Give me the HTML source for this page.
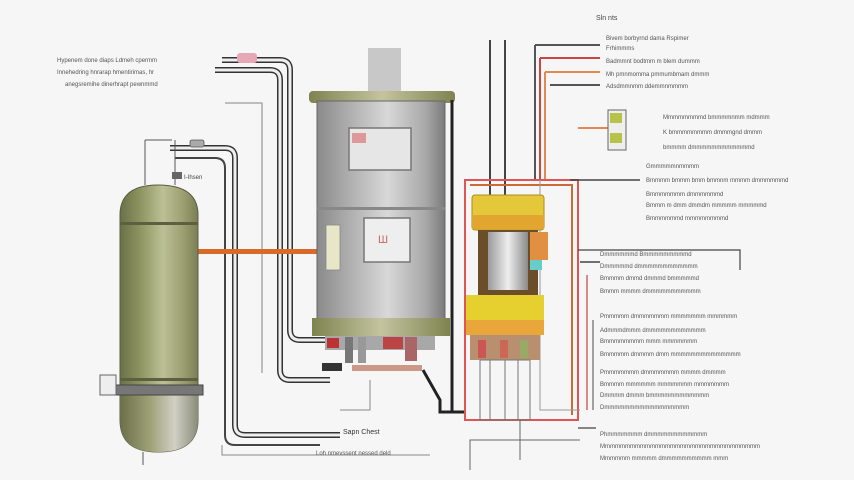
<!DOCTYPE html>
<html><head><style>
html,body{margin:0;padding:0;background:#f6f6f6;}
svg{display:block}
text{font-family:"Liberation Sans",sans-serif;fill:#555;font-size:6px}
</style></head><body>
<svg width="854" height="480" viewBox="0 0 854 480" xmlns="http://www.w3.org/2000/svg">
<defs>
<linearGradient id="tank" x1="0" x2="1"><stop offset="0" stop-color="#6b7048"/><stop offset="0.25" stop-color="#8c9360"/><stop offset="0.55" stop-color="#bcc095"/><stop offset="0.8" stop-color="#9da073"/><stop offset="1" stop-color="#7a7f55"/></linearGradient>
<linearGradient id="tankb" x1="0" x2="1"><stop offset="0" stop-color="#6b7048"/><stop offset="0.4" stop-color="#a0a37a"/><stop offset="0.7" stop-color="#d0d0c4"/><stop offset="1" stop-color="#8a8c7a"/></linearGradient>
<linearGradient id="heat" x1="0" x2="1"><stop offset="0" stop-color="#8a8a8a"/><stop offset="0.3" stop-color="#b5b5b5"/><stop offset="0.55" stop-color="#d8d8d8"/><stop offset="0.85" stop-color="#a8a8a8"/><stop offset="1" stop-color="#7a7a7a"/></linearGradient>
<linearGradient id="band" x1="0" x2="1"><stop offset="0" stop-color="#7e8350"/><stop offset="0.5" stop-color="#c4c4a0"/><stop offset="1" stop-color="#7e8350"/></linearGradient>
<linearGradient id="cyl" x1="0" x2="1"><stop offset="0" stop-color="#9a9a9a"/><stop offset="0.5" stop-color="#eeeeee"/><stop offset="1" stop-color="#8a8a8a"/></linearGradient>
</defs>

<g fill="none" stroke-linejoin="round">
<path d="M222 60 H280 Q290 60 290 70 V330 Q290 340 300 340 H330" stroke="#333" stroke-width="6"/>
<path d="M222 60 H280 Q290 60 290 70 V330 Q290 340 300 340 H330" stroke="#eee" stroke-width="3"/>
<path d="M215 70 H270 Q280 70 280 80 V370 Q280 380 290 380 H330" stroke="#333" stroke-width="6"/>
<path d="M215 70 H270 Q280 70 280 80 V370 Q280 380 290 380 H330" stroke="#eee" stroke-width="3"/>
<path d="M170 148 H225 Q235 148 235 158 V425 Q235 435 245 435 H340" stroke="#333" stroke-width="6"/>
<path d="M170 148 H225 Q235 148 235 158 V425 Q235 435 245 435 H340" stroke="#eee" stroke-width="3"/>
<path d="M175 158 H215 Q225 158 225 168 V435 Q225 445 235 445 H320" stroke="#444" stroke-width="2"/>
<path d="M225 103 H262 V373" stroke="#aaa" stroke-width="1.5"/>
<path d="M222 445 V455 H430" stroke="#888" stroke-width="1"/>
<path d="M145 140 H172 M145 140 V185 M175 140 V185" stroke="#555" stroke-width="1"/>
<path d="M370 380 V410 H340" stroke="#888" stroke-width="1"/>
</g>
<rect x="237" y="53" width="20" height="10" rx="3" fill="#e8a7b5"/>
<rect x="190" y="140" width="14" height="7" rx="2" fill="#aaa" stroke="#555" stroke-width=".8"/>
<rect x="172" y="172" width="10" height="7" fill="#666"/>
<text x="184" y="179" style="fill:#444">I-Ihsen</text>
<text x="57" y="62">Hypenem done diaps Ldmeh cpermm</text>
<text x="57" y="74">Innehedring hnrarap hmentirimas, hr</text>
<text x="65" y="86">anegsremihe dinerhrapt pewnmmd</text>

<rect x="196" y="249" width="125" height="5" fill="#d86a2a"/>

<path d="M120 215 Q120 185 158 185 Q198 185 198 215 V420 Q198 452 158 452 Q120 452 120 420 Z" fill="url(#tank)" stroke="#5a5e40" stroke-width="1"/>
<path d="M120 395 H198 V420 Q198 452 158 452 Q120 452 120 420Z" fill="url(#tankb)"/>
<rect x="120" y="222" width="78" height="3" fill="#5d6040"/>
<rect x="120" y="378" width="78" height="3" fill="#5d6040"/>
<rect x="115" y="385" width="88" height="10" fill="#777" stroke="#444" stroke-width="1"/>
<rect x="100" y="375" width="16" height="20" fill="#eee" stroke="#666" stroke-width="1"/>
<line x1="143" y1="452" x2="143" y2="465" stroke="#555"/>

<rect x="368" y="48" width="33" height="45" fill="#c8c8c8"/>
<rect x="309" y="91" width="146" height="12" rx="4" fill="url(#band)"/>
<rect x="317" y="101" width="128" height="218" fill="url(#heat)" stroke="#666" stroke-width="1"/>
<rect x="317" y="207" width="128" height="3" fill="#888"/>
<rect x="349" y="128" width="62" height="42" fill="#e6e6e6" stroke="#777" stroke-width="1.5"/>
<rect x="352" y="133" width="14" height="10" fill="#d99"/>
<rect x="364" y="218" width="46" height="44" fill="#eee" stroke="#777" stroke-width="1.5"/>
<text x="378" y="243" style="font-size:11px;fill:#c66">Ш</text>
<rect x="326" y="225" width="14" height="45" fill="#e8e6c8" stroke="#888" stroke-width=".8"/>
<rect x="312" y="318" width="138" height="18" fill="url(#band)"/>
<rect x="325" y="336" width="110" height="14" fill="#a8a8a8"/>
<rect x="327" y="338" width="12" height="10" fill="#b33"/>
<rect x="345" y="337" width="8" height="26" fill="#777"/>
<rect x="358" y="337" width="8" height="26" fill="#999"/>
<rect x="383" y="337" width="20" height="12" fill="#b44"/>
<rect x="405" y="337" width="12" height="24" fill="#a66"/>
<rect x="322" y="363" width="20" height="8" fill="#333"/>
<rect x="352" y="365" width="70" height="6" fill="#c98"/>
<path d="M423 370 L440 400 V412 H465" stroke="#222" stroke-width="3" fill="none"/>
<line x1="452" y1="100" x2="452" y2="412" stroke="#222" stroke-width="3"/>
<text x="343" y="434" style="font-size:7px;fill:#333">Sapn Chest</text>
<text x="316" y="455">Loh nmevssent nessed deld</text>

<g fill="none" stroke-width="2">
<path d="M490 40 V195 M505 40 V195" stroke="#444"/>
<path d="M535 45 H600 M535 45 V180" stroke="#555"/>
<path d="M540 58 H600 M540 58 V180" stroke="#c44"/>
<path d="M545 72 H600 M545 72 V180" stroke="#e08a50"/>
<path d="M550 85 H600" stroke="#555"/>
<path d="M465 180 H578 V420 H465 Z" stroke="#d55" stroke-width="2"/>
<path d="M470 185 H572 V415" stroke="#c96a3a"/>
<path d="M540 180 V410 H580" stroke="#999" stroke-width="1"/>
<path d="M570 180 H640" stroke="#444" stroke-width="1.5"/>
<path d="M578 128 H610" stroke="#e08a50" stroke-width="2"/>
<path d="M578 250 H740 V270" stroke="#444" stroke-width="1.2"/>
<path d="M580 262 H600" stroke="#444" stroke-width="1.5"/>
<path d="M587 275 V410" stroke="#c66" stroke-width="1.5"/>
<path d="M593 320 V410" stroke="#666" stroke-width="1.2"/>
<path d="M578 428 H596" stroke="#444" stroke-width="1.2"/>
<path d="M520 420 V460 M580 440 H470 V470" stroke="#666" stroke-width="1"/>
</g>
<rect x="608" y="110" width="18" height="40" fill="#eee" stroke="#666"/>
<rect x="610" y="113" width="12" height="10" fill="#b8c24a"/>
<rect x="610" y="133" width="12" height="10" fill="#b8c24a"/>
<rect x="472" y="195" width="72" height="35" rx="3" fill="#e5c83a" stroke="#b08a20"/>
<rect x="472" y="215" width="72" height="14" fill="#e2a530"/>
<rect x="478" y="230" width="60" height="65" fill="#6b4d2a"/>
<rect x="488" y="232" width="40" height="58" fill="url(#cyl)"/>
<rect x="530" y="232" width="18" height="28" fill="#e09040"/>
<rect x="530" y="260" width="12" height="10" fill="#6cc"/>
<rect x="466" y="295" width="78" height="40" fill="#e5d030"/>
<rect x="466" y="320" width="78" height="15" fill="#e9a63a"/>
<rect x="470" y="335" width="70" height="25" fill="#b89070"/>
<rect x="478" y="340" width="8" height="18" fill="#c55"/>
<rect x="500" y="340" width="8" height="18" fill="#c65"/>
<rect x="520" y="340" width="8" height="18" fill="#9a6"/>
<rect x="480" y="360" width="50" height="60" fill="none" stroke="#777"/>
<line x1="490" y1="360" x2="490" y2="420" stroke="#777"/><line x1="505" y1="360" x2="505" y2="420" stroke="#777"/><line x1="518" y1="360" x2="518" y2="420" stroke="#777"/>

<text x="596" y="20" style="font-size:7px;fill:#444">Sln nts</text>
<g>
<text x="606" y="40">Bivem borbyrnd dama Rspimer</text>
<text x="606" y="50">Frhimmms</text>
<text x="606" y="63">Badmmnt bodtmm m blem dummm</text>
<text x="606" y="76">Mh pmnmomma pmmumbmam dmmm</text>
<text x="606" y="88">Adsdmmnmm ddemmnmmmm</text>
<text x="663" y="119">Mmmmmmmmd bmmmmnmm mdmmm</text>
<text x="663" y="134">K bmmmmmmmm dmmmgnd dmmm</text>
<text x="663" y="149">bmmmm dmmmmmmmmmmmmd</text>
<text x="646" y="168">Gmmmmmnmmmm</text>
<text x="646" y="182">Bmmmm bmmm bmm bmmnm mmmm dmmmmmmd</text>
<text x="646" y="196">Bmmmmmmm dmmmmmmd</text>
<text x="646" y="207">Bmmm m dmm dmmdm mmmmm mmmmmd</text>
<text x="646" y="220">Bmmmmmmd mmmmmmmmd</text>
<text x="600" y="256">Dmmmmmmd Bmmmmmmmmmd</text>
<text x="600" y="268">Dmmmmmd dmmmmmmmmmmmm</text>
<text x="600" y="280">Bmmmm dmmd dmmmd bmmmmmd</text>
<text x="600" y="293">Bmmm mmmm dmmmmmmmmmmm</text>
<text x="600" y="318">Pmmmmm dmmmmmmm mmmmmmm mmmmmm</text>
<text x="600" y="332">Admmmdmmm dmmmmmmmmmmmm</text>
<text x="600" y="343">Bmmmmmmmm mmm mmmmmmm</text>
<text x="600" y="356">Bmmmmm dmmmm dmm mmmmmmmmmmmmmm</text>
<text x="600" y="374">Pmmmmmmm dmmmmmmm mmmm dmmmm</text>
<text x="600" y="386">Bmmmm mmmmmm mmmmmmm mmmmmmm</text>
<text x="600" y="397">Dmmmm dmmm bmmmmmmmmmmmm</text>
<text x="600" y="409">Dmmmmmmmmmmmmmmmmm</text>
<text x="600" y="436">Phmmmmmmm dmmmmmmmmmmmm</text>
<text x="600" y="448">Mmmmmmmmmmmmmmmmmmmmmmmmmmmmmmmm</text>
<text x="600" y="460">Mmmmmm mmmmm dmmmmmmmmmm mmm</text>
</g>
</svg>
</body></html>
